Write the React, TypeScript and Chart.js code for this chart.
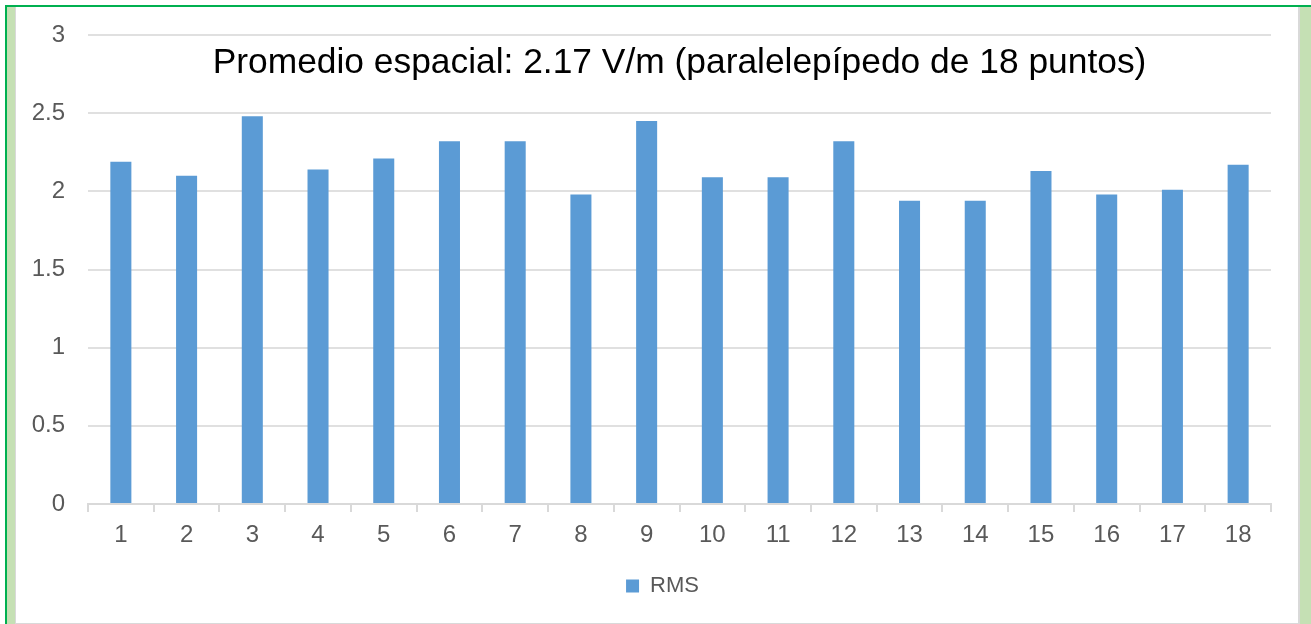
import React, { useEffect, useRef } from "react";
import { Chart, registerables } from "chart.js";

Chart.register(...registerables);

const categories = ["1", "2", "3", "4", "5", "6", "7", "8", "9", "10", "11", "12", "13", "14", "15", "16", "17", "18"];
const rmsValues = [2.19, 2.1, 2.48, 2.14, 2.21, 2.32, 2.32, 1.98, 2.45, 2.09, 2.09, 2.32, 1.94, 1.94, 2.13, 1.98, 2.01, 2.17];
const seriesName = "RMS";
const titleText = "Promedio espacial: 2.17 V/m (paralelepípedo de 18 puntos)";
const yMin = 0;
const yMax = 3;
const yStep = 0.5;

const FONT = "'Liberation Sans', Arial, sans-serif";

const innerTitlePlugin = {
  id: "innerTitle",
  afterDatasetsDraw(chart: any) {
    const { ctx, chartArea } = chart;
    ctx.save();
    let size = 30;
    ctx.font = `${size}px ${FONT}`;
    const w = ctx.measureText(titleText).width;
    size = size * (934 / w);
    ctx.font = `${size}px ${FONT}`;
    ctx.fillStyle = "#000000";
    ctx.textAlign = "center";
    ctx.textBaseline = "middle";
    ctx.fillText(titleText, (chartArea.left + chartArea.right) / 2, chartArea.top + 28);
    ctx.restore();
  },
};

const legendShiftPlugin = {
  id: "legendShift",
  afterLayout(chart: any) {
    const l = chart.legend;
    if (l) {
      l.left += 19;
      l.right += 19;
    }
  },
};

export default function App() {
  const canvasRef = useRef<HTMLCanvasElement | null>(null);

  useEffect(() => {
    if (!canvasRef.current) return;
    const chart = new Chart(canvasRef.current, {
      type: "bar",
      data: {
        labels: categories,
        datasets: [
          {
            label: seriesName,
            data: rmsValues,
            backgroundColor: "#5b9bd5",
            borderWidth: 0,
            categoryPercentage: 1,
            barPercentage: 0.32,
          },
        ],
      },
      plugins: [innerTitlePlugin, legendShiftPlugin],
      options: {
        animation: false,
        responsive: false,
        maintainAspectRatio: false,
        layout: { padding: { top: 28, right: 27, bottom: 16, left: 0 } },
        plugins: {
          title: { display: false },
          tooltip: { enabled: false },
          legend: {
            display: true,
            position: "bottom",
            labels: {
              boxWidth: 13,
              boxHeight: 13,
              padding: 10,
              color: "#595959",
              font: { family: FONT, size: 22 },
            },
          },
        },
        scales: {
          x: {
            offset: true,
            grid: {
              display: true,
              drawOnChartArea: false,
              drawTicks: true,
              tickLength: 8,
              color: "#d9d9d9",
              lineWidth: 2,
              offset: true,
            },
            border: { display: true, color: "#d9d9d9", width: 2 },
            ticks: {
              color: "#595959",
              font: { family: FONT, size: 24 },
              padding: 9,
              maxRotation: 0,
            },
            afterFit: (s: any) => {
              s.height = 61;
            },
          },
          y: {
            min: yMin,
            max: yMax,
            grid: { color: "#e0e0e0", lineWidth: 2, drawTicks: false },
            border: { display: false },
            ticks: {
              stepSize: yStep,
              color: "#595959",
              font: { family: FONT, size: 24 },
              padding: 23,
              callback: (v: any) => String(Number(v)),
            },
            afterFit: (s: any) => {
              s.width = 72;
              s.paddingTop = 15;
              s.paddingBottom = 15;
            },
          },
        },
      },
    });
    return () => chart.destroy();
  }, []);

  const box = (style: React.CSSProperties) => <div style={{ position: "absolute", ...style }} />;

  return (
    <div style={{ position: "absolute", left: 0, top: 0, width: 1311, height: 624, background: "#ffffff", overflow: "hidden" }}>
      {box({ left: 5, top: 5, width: 1306, height: 2, background: "#00b050" })}
      {box({ left: 5, top: 5, width: 2, height: 619, background: "#00b050" })}
      {box({ left: 7, top: 7, width: 8, height: 617, background: "#c5e0b4" })}
      {box({ left: 15, top: 7, width: 1, height: 617, background: "#d9d9d9" })}
      {box({ left: 1298, top: 7, width: 2, height: 617, background: "#d9d9d9" })}
      {box({ left: 1300, top: 7, width: 11, height: 617, background: "#c5e0b4" })}
      {box({ left: 16, top: 623, width: 1282, height: 1, background: "#d9d9d9" })}
      <canvas
        ref={canvasRef}
        width={1282}
        height={616}
        style={{ position: "absolute", left: 16, top: 7, width: 1282, height: 616 }}
      />
    </div>
  );
}
